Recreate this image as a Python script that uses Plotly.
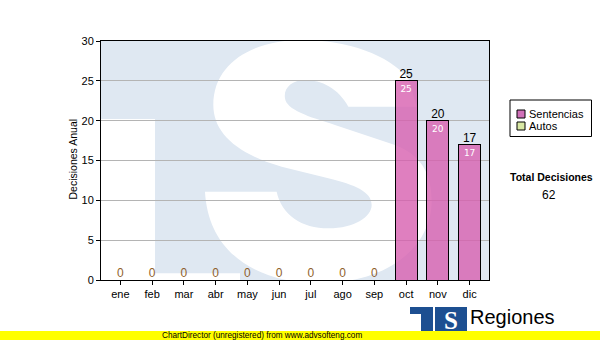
import plotly.graph_objects as go

# ---------------- data ----------------
months = ["ene", "feb", "mar", "abr", "may", "jun", "jul", "ago", "sep", "oct", "nov", "dic"]
sentencias = [0, 0, 0, 0, 0, 0, 0, 0, 0, 25, 20, 17]
autos = [0, 0, 0, 0, 0, 0, 0, 0, 0, 0, 0, 0]
series_names = ["Sentencias", "Autos"]
y_ticks = [0, 5, 10, 15, 20, 25, 30]
y_title = "Decisiones Anual"
total_title = "Total Decisiones"
footer_text = "ChartDirector (unregistered) from www.advsofteng.com"
brand_text = "Regiones"

totals = [s + a for s, a in zip(sentencias, autos)]
grand_total = sum(totals)

# ---------------- layout geometry ----------------
W, H = 600, 340
L, R, T, B = 101, 111, 41, 60
PW = W - L - R
PH = H - T - B


def px(x):
    return (x - L) / PW


def py(y):
    return (H - B - y) / PH


SENT_COLOR = "rgba(215,95,175,0.8)"
AUTO_COLOR = "#d9e8a4"
BG_BLUE = "#dfe8f2"
FONT = "Liberation Sans, Arial, sans-serif"

fig = go.Figure()

fig.add_trace(go.Bar(
    x=months, y=sentencias, name=series_names[0],
    marker=dict(color=SENT_COLOR, line=dict(color="black", width=1)),
    text=[str(v) if v else "" for v in sentencias],
    textposition="inside", insidetextanchor="end", textangle=0,
    textfont=dict(color="white", size=9, family="DejaVu Sans, sans-serif"),
    constraintext="none", showlegend=False, hoverinfo="skip",
))
fig.add_trace(go.Bar(
    x=months, y=autos, name=series_names[1],
    marker=dict(color=AUTO_COLOR, line=dict(color="black", width=0)),
    showlegend=False, hoverinfo="skip",
))
fig.add_trace(go.Scatter(
    x=months, y=totals, mode="text", text=[str(v) for v in totals],
    textposition="top center",
    textfont=dict(size=12, family=FONT,
                  color=["black" if v else "#8f5f2c" for v in totals]),
    showlegend=False, hoverinfo="skip", cliponaxis=False,
))

# ---------------- watermark (TS logo background) ----------------
def zc(zx, zy):
    ax = 95 + zx / 3.0
    ay = 35 + zy / 3.0
    return f"{px(ax):.4f},{py(ay):.4f}"


segs = [
    ("M", [(965, 215)]),
    ("L", [(760, 215)]),
    ("C", [(730, 160), (680, 135), (630, 135)]),
    ("C", [(590, 135), (565, 160), (570, 190)]),
    ("C", [(575, 225), (640, 245), (720, 270)]),
    ("L", [(900, 330)]),
    ("C", [(990, 365), (1010, 430), (1010, 500)]),
    ("C", [(1010, 620), (900, 740), (680, 745)]),
    ("C", [(480, 745), (340, 650), (330, 470)]),
    ("L", [(545, 470)]),
    ("C", [(560, 540), (620, 580), (700, 580)]),
    ("C", [(780, 580), (830, 545), (830, 510)]),
    ("C", [(830, 470), (780, 450), (700, 430)]),
    ("L", [(560, 395)]),
    ("C", [(420, 355), (355, 290), (355, 210)]),
    ("C", [(355, 80), (480, 15), (620, 15)]),
    ("C", [(760, 15), (880, 60), (940, 130)]),
]
path = " ".join(c + " " + " ".join(zc(*p) for p in pts) for c, pts in segs) + " Z"

shapes = [
    dict(type="rect", xref="paper", yref="paper", x0=px(101), x1=px(155), y0=py(280), y1=py(119),
         fillcolor="white", line=dict(width=0), layer="below"),
    dict(type="rect", xref="paper", yref="paper", x0=px(155), x1=px(240), y0=py(280), y1=py(273.3),
         fillcolor="white", line=dict(width=0), layer="below"),
    dict(type="path", xref="paper", yref="paper", path=path,
         fillcolor="white", line=dict(width=0), layer="below"),
]

# ---------------- legend (manual) ----------------
shapes.append(dict(type="rect", xref="paper", yref="paper", x0=px(510), x1=px(591.5), y0=py(136.5), y1=py(100),
                   fillcolor="white", line=dict(color="black", width=1)))
legend_colors = ["#d070b8", AUTO_COLOR]
annotations = []
for i, (nm, col) in enumerate(zip(series_names, legend_colors)):
    yc = 114 + i * 12
    shapes.append(dict(type="rect", xref="paper", yref="paper", x0=px(517), x1=px(525),
                       y0=py(yc + 4), y1=py(yc - 4), fillcolor=col, line=dict(color="black", width=1)))
    annotations.append(dict(xref="paper", yref="paper", x=px(527), y=py(yc), text=nm, showarrow=False,
                            xanchor="left", yanchor="middle", font=dict(size=11, family=FONT, color="black")))

annotations.append(dict(xref="paper", yref="paper", x=px(551), y=py(177), text=f"<b>{total_title}</b>",
                        showarrow=False, xanchor="center", yanchor="middle",
                        font=dict(size=10.5, family=FONT, color="black")))
annotations.append(dict(xref="paper", yref="paper", x=px(549), y=py(195), text=str(grand_total),
                        showarrow=False, xanchor="center", yanchor="middle",
                        font=dict(size=12, family=FONT, color="black")))

# y-axis title
annotations.append(dict(xref="paper", yref="paper", x=px(72.5), y=py(159), text=y_title, textangle=-90,
                        showarrow=False, xanchor="center", yanchor="middle",
                        font=dict(size=10.5, family=FONT, color="black")))

# ---------------- footer: logo + yellow band ----------------
LOGO_BLUE = "#1d4f91"
shapes += [
    dict(type="rect", xref="paper", yref="paper", x0=px(410), x1=px(433), y0=py(314), y1=py(307),
         fillcolor=LOGO_BLUE, line=dict(width=0)),
    dict(type="rect", xref="paper", yref="paper", x0=px(421), x1=px(433), y0=py(331), y1=py(307),
         fillcolor=LOGO_BLUE, line=dict(width=0)),
    dict(type="rect", xref="paper", yref="paper", x0=px(435), x1=px(467), y0=py(331), y1=py(307),
         fillcolor=LOGO_BLUE, line=dict(width=0)),
]
annotations.append(dict(xref="paper", yref="paper", x=px(451), y=py(320), text="<b>S</b>",
                        showarrow=False, xanchor="center", yanchor="middle",
                        font=dict(size=25, family="Liberation Serif, serif", color="white")))
annotations.append(dict(xref="paper", yref="paper", x=px(468), y=py(304), text=brand_text,
                        showarrow=False, xanchor="left", yanchor="top",
                        font=dict(size=20, family=FONT, color="black")))
shapes.append(dict(type="rect", xref="paper", yref="paper", x0=px(0), x1=px(600), y0=py(340), y1=py(331),
                   fillcolor="#ffff00", line=dict(width=0)))
annotations.append(dict(xref="paper", yref="paper", x=px(262), y=py(335.5), text=footer_text,
                        showarrow=False, xanchor="center", yanchor="middle",
                        font=dict(size=8.2, family=FONT, color="black")))

fig.update_layout(
    width=W, height=H, autosize=False,
    margin=dict(l=L, r=R, t=T, b=B, pad=0),
    paper_bgcolor="white", plot_bgcolor=BG_BLUE,
    barmode="stack", bargap=0.3,
    shapes=shapes, annotations=annotations,
    showlegend=False,
    font=dict(family=FONT, size=11, color="black"),
)
fig.update_xaxes(
    type="category", categoryorder="array", categoryarray=months,
    showline=True, linecolor="black", linewidth=1, mirror=True,
    ticks="outside", ticklen=4, tickcolor="black", showgrid=False,
    tickfont=dict(size=11, family=FONT, color="black"),
)
fig.update_yaxes(
    range=[0, 30], tickvals=y_ticks, ticktext=[str(v) for v in y_ticks],
    showline=True, linecolor="black", linewidth=1, mirror=True,
    ticks="outside", ticklen=4, tickcolor="black",
    showgrid=True, gridcolor="#b4b4b4", gridwidth=1, zeroline=False,
    tickfont=dict(size=11, family=FONT, color="black"),
)

fig.write_html("out.html")
